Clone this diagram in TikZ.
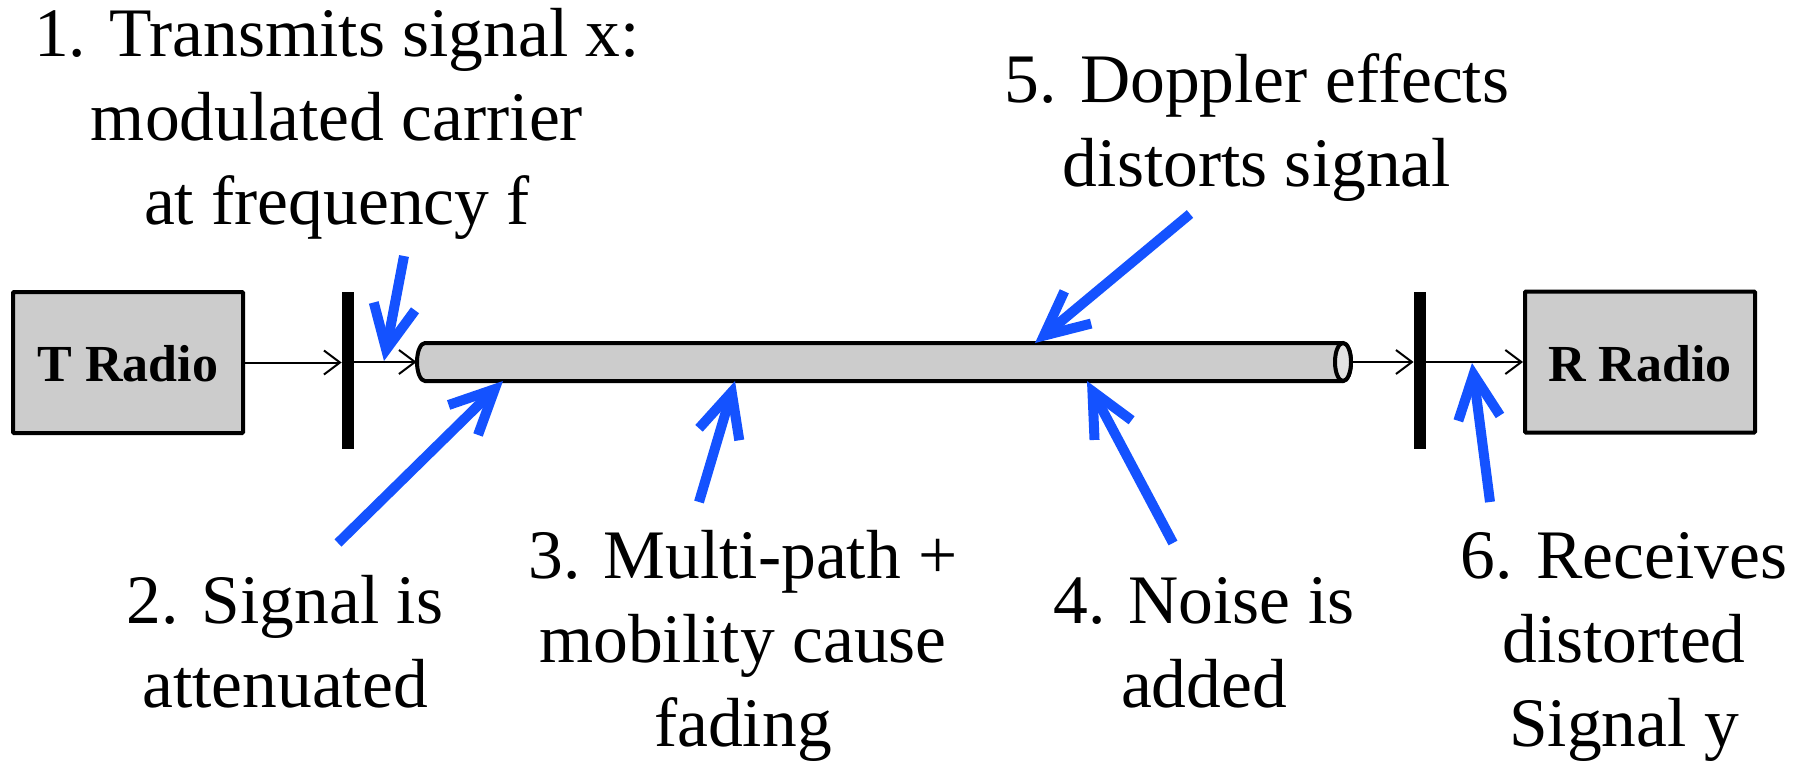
\documentclass[tikz,border=0pt]{standalone}
\usepackage{fontspec}
\setmainfont{Liberation Serif}
\usetikzlibrary{arrows.meta}
\definecolor{boxgray}{HTML}{CCCCCC}
\definecolor{endgray}{HTML}{E2E2E2}
\definecolor{arrowblue}{RGB}{20,82,255}
\tikzset{
  radiobox/.style={draw=black, line width=2pt, fill=boxgray, minimum width=115pt, minimum height=70.5pt, inner sep=0pt, rounded corners=0.5pt},
  radiotext/.style={font=\fontsize{26pt}{30pt}\selectfont\bfseries, inner sep=0pt, anchor=base},
  barnode/.style={fill=black, minimum width=6pt, minimum height=78.5pt, inner sep=0pt},
  label/.style={font=\fontsize{34.75pt}{42pt}\selectfont, align=center, inner sep=0pt, anchor=base},
  thinarrow/.style={line width=1pt, -{Straight Barb[length=8pt, width=12pt]}},
  bluearrow/.style={draw=arrowblue, line width=5pt, -{Straight Barb[length=22pt, width=21pt]}}
}
\begin{document}
\begin{tikzpicture}[x=0.5pt, y=-0.5pt]
\useasboundingbox (0,0) rectangle (1805,762);

% radios
\node[radiobox] (T) at (128,362.5) {};
\node[radiotext] (Tl) at (128,381) {T Radio};
\node[radiobox] (R) at (1640,362) {};
\node[radiotext] (Rl) at (1640,381) {R Radio};

% antenna bars
\node[barnode] (barT) at (348,370.5) {};
\node[barnode] (barR) at (1420,370.5) {};

% channel cylinder
\node[minimum width=467pt, minimum height=19pt, inner sep=0pt] (cyl) at (884,362) {};
\path[fill=boxgray, draw=black, line width=2pt]
  (425,343) -- (1343,343) arc[start angle=-90, end angle=90, x radius=8, y radius=19]
  -- (425,381) arc[start angle=90, end angle=270, x radius=8, y radius=19] -- cycle;
\draw[fill=endgray, line width=2pt] (1343,362) ellipse [x radius=8, y radius=19];

% signal flow
\draw[thinarrow] (T.east) -- (T.east -| barT.west);
\draw[thinarrow] (cyl.west -| barT.east) -- (cyl.west);
\draw[thinarrow] (cyl.east) -- (cyl.east -| barR.west);
\draw[thinarrow] (cyl.east -| barR.east) -- (R.west |- cyl.east);

% annotation arrows
\coordinate (a1s) at (404,256); \coordinate (a1e) at (384,361);
\coordinate (a2s) at (338,543); \coordinate (a2e) at (503,381);
\coordinate (a3s) at (699,502); \coordinate (a3e) at (735,381);
\coordinate (a4s) at (1173,543); \coordinate (a4e) at (1087,381);
\coordinate (a5s) at (1190,214); \coordinate (a5e) at (1035,343);
\coordinate (a6s) at (1490,502); \coordinate (a6e) at (1472,363);
\draw[bluearrow] (a1s) -- (a1e);
\draw[bluearrow] (a2s) -- (a2e);
\draw[bluearrow] (a3s) -- (a3e);
\draw[bluearrow] (a4s) -- (a4e);
\draw[bluearrow] (a5s) -- (a5e);
\draw[bluearrow] (a6s) -- (a6e);

% labels (anchor base = baseline of the last line)
\node[label] (L1) at (337,224) {1. Transmits signal x:\\modulated carrier\\at frequency f};
\node[label] (L2) at (285,707) {2. Signal is\\attenuated};
\node[label] (L3) at (743,746) {3. Multi-path +\\mobility cause\\fading};
\node[label] (L4) at (1204,707) {4. Noise is\\added};
\node[label] (L5) at (1257,186) {5. Doppler effects\\distorts signal};
\node[label] (L6) at (1624,746) {6. Receives\\distorted\\Signal y};
\end{tikzpicture}
\end{document}
